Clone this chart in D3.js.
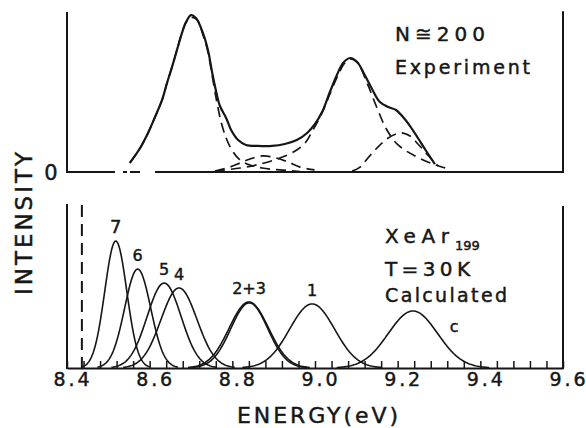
<!DOCTYPE html>
<html>
<head>
<meta charset="utf-8">
<script src="https://cdn.jsdelivr.net/npm/d3@7"></script>
<style>
  html, body { margin: 0; padding: 0; background: #fff; }
  svg { display: block; }
  text { font-family: "DejaVu Sans", sans-serif; fill: #161616; stroke: #161616; stroke-width: 0.45px; }
</style>
</head>
<body>
<svg id="chart" width="586" height="428"></svg>
<script>
// ---- energy axis (eV) ----
const energyDomain = [8.4, 9.6];
const energyTicks = [8.4, 8.6, 8.8, 9.0, 9.2, 9.4, 9.6];
const minorTickStep = 0.04;

// ---- upper panel: measured spectrum, N ≅ 200 (energy eV, intensity a.u.) ----
const experimentCurve = [
  [8.552, 0.057], [8.577, 0.151], [8.596, 0.245], [8.613, 0.346], [8.630, 0.453],
  [8.642, 0.560], [8.654, 0.660], [8.666, 0.767], [8.678, 0.874], [8.688, 0.943],
  [8.700, 0.987], [8.712, 0.968], [8.729, 0.874], [8.741, 0.767], [8.751, 0.629],
  [8.760, 0.516], [8.770, 0.415], [8.785, 0.340], [8.797, 0.264], [8.814, 0.201],
  [8.833, 0.170], [8.862, 0.164], [8.896, 0.164], [8.927, 0.176], [8.956, 0.201],
  [8.981, 0.245], [9.000, 0.302], [9.017, 0.377], [9.036, 0.503], [9.053, 0.610],
  [9.068, 0.686], [9.085, 0.717], [9.102, 0.692], [9.119, 0.616], [9.138, 0.522],
  [9.157, 0.440], [9.177, 0.409], [9.196, 0.390], [9.213, 0.346], [9.230, 0.289],
  [9.249, 0.214], [9.269, 0.132], [9.290, 0.050]
];

// fitted components of the measured spectrum
const component1 = [
  [8.552, 0.057], [8.577, 0.151], [8.596, 0.245], [8.613, 0.346], [8.630, 0.453],
  [8.642, 0.560], [8.654, 0.660], [8.666, 0.767], [8.678, 0.874], [8.688, 0.940],
  [8.700, 0.972], [8.715, 0.956], [8.729, 0.862], [8.741, 0.755], [8.753, 0.579],
  [8.763, 0.434], [8.773, 0.314], [8.785, 0.214], [8.799, 0.138], [8.819, 0.075],
  [8.843, 0.044], [8.872, 0.025], [8.915, 0.013], [8.964, 0.003]
];
const component2 = [
  [8.758, 0.006], [8.819, 0.025], [8.867, 0.050], [8.915, 0.088], [8.952, 0.132],
  [8.976, 0.182], [8.995, 0.264], [9.017, 0.371], [9.036, 0.491], [9.056, 0.610],
  [9.070, 0.679], [9.085, 0.711], [9.102, 0.690], [9.126, 0.560], [9.150, 0.403],
  [9.174, 0.264], [9.201, 0.170], [9.242, 0.101], [9.286, 0.050], [9.315, 0.025]
];
const component3 = [
  [9.090, 0.006], [9.109, 0.031], [9.128, 0.088], [9.150, 0.151], [9.174, 0.208],
  [9.196, 0.239], [9.213, 0.245], [9.230, 0.226], [9.249, 0.176], [9.269, 0.119],
  [9.286, 0.069], [9.298, 0.038]
];
const component4 = [
  [8.758, 0.006], [8.794, 0.031], [8.819, 0.057], [8.843, 0.082], [8.874, 0.101],
  [8.906, 0.088], [8.935, 0.063], [8.964, 0.031], [8.999, 0.013]
];

// ---- lower panel: calculated XeAr199 bands at T = 30 K ----
const peakNames   = ["7", "6", "5", "4", "2", "3", "1", "c"];
const peakCenters = [8.518, 8.571, 8.635, 8.671, 8.840, 8.841, 8.993, 9.237]; // eV
const peakHeights = [0.779, 0.607, 0.521, 0.491, 0.405, 0.400, 0.393, 0.350]; // a.u.
const peakWidths  = [0.0266, 0.0315, 0.0411, 0.0435, 0.0475, 0.0445, 0.0544, 0.0595]; // Gaussian sigma, eV
const peakLabels  = ["7", "6", "5", "4", "2+3", "1", "c"];
const labelPeaks  = [["7"], ["6"], ["5"], ["4"], ["2", "3"], ["1"], ["c"]];
const cutoffEnergy = 8.436;

// ---- drawing ----
const ink = "#161616";
const svg = d3.select("#chart");

const x = d3.scaleLinear().domain(energyDomain).range([67, 563]);
const yTop = d3.scaleLinear().domain([0, 1]).range([172, 13]);
const yBot = d3.scaleLinear().domain([0, 1]).range([368, 205]);

function vline(xp, y1, y2) {
  return svg.append("line").attr("x1", xp).attr("x2", xp).attr("y1", y1).attr("y2", y2)
    .attr("stroke", ink).attr("stroke-width", 2).attr("stroke-linecap", "square");
}

// upper frame: side axes and the zero line (broken near the left edge)
vline(x(energyDomain[0]), yTop(1.0), yTop(0));
vline(x(energyDomain[1]), yTop(1.005), yTop(0));
svg.append("line")
  .attr("x1", x(energyDomain[0])).attr("x2", x(energyDomain[1]))
  .attr("y1", yTop(0)).attr("y2", yTop(0))
  .attr("stroke", ink).attr("stroke-width", 2)
  .attr("stroke-dasharray", "48,8,4,3,10,15,600");

const topLine = d3.line()
  .x(d => x(d[0])).y(d => yTop(d[1]))
  .curve(d3.curveCatmullRom.alpha(0.5));

[component1, component2, component3, component4].forEach(c => {
  svg.append("path").attr("d", topLine(c))
    .attr("fill", "none").attr("stroke", ink).attr("stroke-width", 1.7)
    .attr("stroke-dasharray", "10,6");
});
svg.append("path").attr("d", topLine(experimentCurve))
  .attr("fill", "none").attr("stroke", ink).attr("stroke-width", 2.2)
  .attr("stroke-linejoin", "round");

// lower frame
vline(x(energyDomain[0]), yBot(1.0), yBot(0));
vline(x(energyDomain[1]), yBot(0.988), yBot(0));

const minorTicks = d3.range(0, Math.round((energyDomain[1] - energyDomain[0]) / minorTickStep) + 1)
  .map(i => +(energyDomain[0] + i * minorTickStep).toFixed(2));

const tickAxis = svg.append("g")
  .attr("transform", `translate(0,${yBot(0)})`)
  .call(d3.axisBottom(x).tickValues(minorTicks).tickSize(-7).tickSizeOuter(0).tickFormat(""));
tickAxis.select(".domain").attr("stroke", ink).attr("stroke-width", 2);
tickAxis.selectAll(".tick line").attr("stroke", ink).attr("stroke-width", 1.5);

const labelAxis = svg.append("g")
  .attr("transform", `translate(0,${yBot(0)})`)
  .call(d3.axisBottom(x).tickValues(energyTicks).tickSize(0).tickPadding(4)
    .tickFormat(d3.format(".1f")));
labelAxis.select(".domain").remove();
labelAxis.attr("font-family", null).attr("font-size", null);
labelAxis.selectAll(".tick text")
  .attr("font-size", 19).attr("fill", ink).attr("dx", 4)
  .attr("textLength", 36).attr("lengthAdjust", "spacing");

// low-energy limit marker
svg.append("line")
  .attr("x1", x(cutoffEnergy)).attr("x2", x(cutoffEnergy))
  .attr("y1", yBot(1.0)).attr("y2", yBot(0))
  .attr("stroke", ink).attr("stroke-width", 2).attr("stroke-dasharray", "12,7");

// calculated Gaussian bands
const peaks = peakNames.map((name, i) => ({
  name, center: peakCenters[i], height: peakHeights[i], width: peakWidths[i]
}));
const botLine = d3.line().x(d => x(d[0])).y(d => yBot(d[1])).curve(d3.curveLinear);
peaks.forEach(p => {
  const pts = d3.range(0, 121).map(k => {
    const e = p.center - 3.1 * p.width + k * (6.2 * p.width / 120);
    return [e, p.height * Math.exp(-((e - p.center) ** 2) / (2 * p.width * p.width))];
  });
  svg.append("path").attr("d", botLine(pts))
    .attr("fill", "none").attr("stroke", ink).attr("stroke-width", 1.6);
});

// band labels above each maximum; "c" sits on its right flank
peakLabels.forEach((lab, i) => {
  const ps = peaks.filter(p => labelPeaks[i].includes(p.name));
  const cx = d3.mean(ps, p => p.center);
  const top = d3.max(ps, p => p.height);
  let px = x(cx), py = yBot(top) - 8;
  if (lab === "c") { px = x(cx + 1.47 * d3.mean(ps, p => p.width)) + 5; py = yBot(top * 0.6) - 2; }
  svg.append("text").attr("x", px).attr("y", py)
    .attr("text-anchor", "middle").attr("font-size", lab === "7" ? 18 : 16)
    .text(lab);
});

// ---- text ----
function label(txt, xp, yp, size, len, anchor) {
  const t = svg.append("text").attr("x", xp).attr("y", yp)
    .attr("font-size", size).attr("text-anchor", anchor || "start").text(txt);
  if (len) t.attr("textLength", len).attr("lengthAdjust", "spacing");
  return t;
}

label("0", 51, 180, 21, null, "middle");
label("N\u2245200", 395, 41, 20, 90);
label("Experiment", 395, 74, 19, 135);

label("XeAr", 385, 243, 20, 64);
label("199", 455, 250, 13);
label("T=30K", 385, 276, 20, 85);
label("Calculated", 385, 302, 19, 122);

label("ENERGY(eV)", 317.5, 423, 22, 161, "middle");
svg.append("text")
  .attr("transform", "translate(32,223.5) rotate(-90)")
  .attr("text-anchor", "middle").attr("font-size", 23)
  .attr("textLength", 143).attr("lengthAdjust", "spacing")
  .text("INTENSITY");
</script>
</body>
</html>
